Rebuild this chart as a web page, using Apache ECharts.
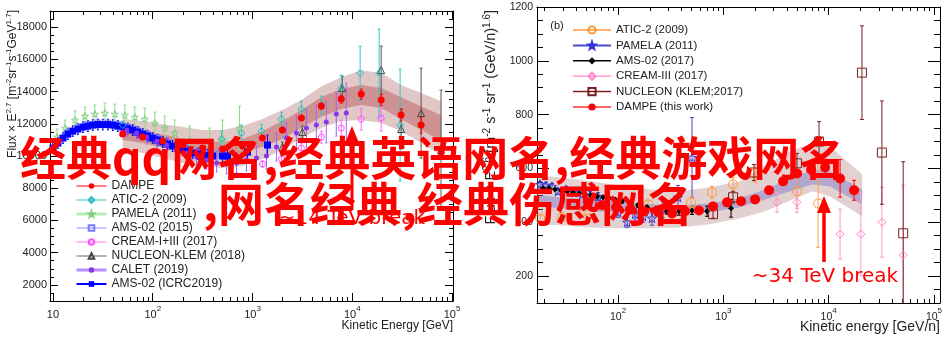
<!DOCTYPE html>
<html>
<head>
<meta charset="utf-8">
<script src="https://cdn.jsdelivr.net/npm/echarts@6/dist/echarts.min.js"></script>
<style>
  html, body { margin: 0; padding: 0; background: #fff; }
  #chart { width: 951px; height: 352px; }
</style>
</head>
<body>
<div id="chart"></div>
<script>
var lg = Math.log10;
var FONT = '"Liberation Sans", Arial, sans-serif';

// ---------- panel (a): proton flux x E^2.7, energy in GeV ----------
var pDampeE = [50, 79, 126, 200, 316, 501, 794, 1259, 1995, 3090, 4900, 7760, 12300, 19500, 30900, 49000];
var pDampeF = [11362, 11176, 10928, 10680, 10494, 10432, 10618, 11114, 11610, 12354, 13098, 13532, 13842, 13470, 12540, 11920];
var pDampeErr = [60, 60, 60, 60, 70, 70, 90, 100, 120, 160, 190, 250, 310, 330, 370, 500];

var pBandE = [50, 79, 126, 200, 316, 501, 794, 1259, 1995, 3090, 4900, 7760, 12300, 19500, 30900, 49000, 78000];
var pBandC = [11362, 11176, 10928, 10680, 10494, 10432, 10618, 11052, 11610, 12292, 13036, 13532, 13780, 13594, 12974, 12354, 11734];
var pBandOuter = [930, 990, 1050, 1120, 1120, 1180, 1240, 1240, 1240, 1180, 1300, 1360, 1550, 1550, 1430, 1550, 1670];
var pBandInner = [370, 370, 400, 400, 430, 430, 430, 500, 560, 560, 620, 620, 620, 620, 680, 740, 800];

var pAticE = [50.1, 490, 776, 1230, 1950, 3090, 4900, 7760, 12000, 18600, 30200];
var pAticF = [11920, 11052, 11424, 11548, 12292, 12912, 13160, 14214, 15144, 15144, 11920];
var pAticErr = [250, 500, 500, 430, 430, 500, 560, 810, 1670, 2730, 3470];

var pPamE = [11, 13.2, 16.6, 20.9, 26.3, 33.1, 41.7, 52.5, 66.1, 83.2, 105, 132, 166, 234, 372, 501, 741];
var pPamF = [11176, 11734, 12230, 12478, 12602, 12664, 12602, 12540, 12416, 12292, 12044, 11734, 11424, 10990, 10804, 10990, 11734];
var pPamErr = [500, 500, 560, 560, 560, 620, 620, 620, 620, 680, 680, 740, 810, 870, 930, 1240, 1360];

var pAms15E = [11.2, 14.1, 17.8, 22.4, 28.2, 35.5, 44.7, 56.2, 70.8, 89.1, 112, 141, 178, 224, 282, 355, 447];
var pAms15F = [10928, 11486, 11796, 11982, 12075, 12075, 11982, 11827, 11610, 11362, 11114, 10866, 10618, 10401, 10246, 10153, 10122];
var pAms15Err = [180, 180, 180, 180, 180, 180, 180, 180, 180, 180, 190, 190, 200, 210, 230, 250, 280];

var pCreamE = [1259, 1950, 3090, 4900, 7760, 12300, 19500];
var pCreamF = [9502, 9812, 10494, 11176, 11734, 12292, 12354];
var pCreamErr = [190, 190, 310, 370, 500, 680, 810];

var pNucE = [1995, 3160, 7940, 19500, 30900, 49000, 77600];
var pNucF = [10556, 11486, 14214, 15330, 11672, 12664, 10370];
var pNucErr = [310, 370, 740, 1490, 1240, 2790, 3720];

var pCalE = [55, 69, 87, 110, 138, 174, 219, 275, 347, 437, 550, 692, 871, 1096, 1380, 1738, 2188, 2754, 3467, 4365, 5495, 6918, 8710];
var pCalF = [11610, 11424, 11176, 10928, 10680, 10432, 10184, 9936, 9750, 9564, 9502, 9564, 9750, 9874, 9998, 10556, 11114, 11424, 11734, 11920, 12106, 12602, 12664];
var pCalErr = [370, 370, 430, 430, 430, 500, 500, 500, 560, 560, 620, 620, 680, 740, 810, 870, 990, 1120, 1180, 1240, 1300, 1360, 1860];

var pAmsIE = [10, 11.2, 12.6, 14.1, 15.8, 17.8, 20, 22.4, 25.1, 28.2, 31.6, 35.5, 39.8, 44.7, 50.1, 56.2, 63.1, 70.8, 79.4, 89.1,
  100, 112, 126, 141, 158, 178, 200, 224, 251, 282, 316, 355, 398, 501, 562, 891, 1413];
var pAmsIF = [10494, 10804, 11114, 11362, 11548, 11672, 11796, 11858, 11920, 11951, 11951, 11951, 11920, 11858, 11796, 11703, 11610, 11486, 11362, 11238,
  11114, 10990, 10866, 10742, 10618, 10494, 10370, 10277, 10184, 10122, 10060, 10029, 9998, 9998, 9998, 10246, 10680];
var pAmsIErr = [330, 330, 330, 330, 330, 330, 330, 330, 330, 330, 330, 330, 330, 330, 330, 330, 330, 330, 330, 330,
  330, 330, 330, 330, 330, 330, 340, 340, 350, 350, 360, 370, 380, 400, 420, 500, 620];

var pXTicks = [1, 2, 3, 4, 5];
var pYTicks = [2000, 4000, 6000, 8000, 10000, 12000, 14000, 16000, 18000];

// ---------- panel (b): helium flux x E^2.6, energy in GeV/n ----------
var hDampeE = [51.9, 70.5, 95.7, 130, 177, 240, 326, 433, 587, 798, 1084, 1472, 2000, 2717, 3690, 5012, 6810, 9250, 12830, 17420];
var hDampeF = [474, 463, 456, 448, 441, 437, 433, 441, 444, 459, 474, 478, 485, 519, 552, 581, 596, 604, 563, 519];
var hDampeErr = [3, 3, 3, 3, 3, 3, 4, 4, 5, 5, 6, 7, 8, 9, 11, 13, 20, 30, 70, 37];

var hBandE = [17.0, 28.1, 54.2, 104.5, 201, 388, 748, 1442, 2489, 4297, 7107, 10310, 20750];
var hOuterLo = [393, 389, 381, 378, 378, 381, 393, 415, 441, 481, 515, 496, 422];
var hOuterHi = [574, 567, 552, 537, 522, 515, 530, 552, 611, 663, 696, 682, 578];
var hInnerLo = [459, 452, 441, 437, 430, 430, 437, 456, 485, 515, 541, 533, 467];
var hInnerHi = [500, 493, 485, 478, 467, 463, 470, 489, 522, 563, 596, 589, 522];

var hAticE = [18.2, 29.4, 48.6, 193, 494, 781, 1236, 2000, 5000, 7940];
var hAticF = [415, 419, 441, 467, 474, 511, 541, 581, 515, 470];
var hAticErr = [11, 11, 11, 15, 19, 22, 26, 33, 63, 163];

var hPamE = [18.2, 20.7, 23.6, 26.9, 32.1, 38.3, 45.8, 54.2, 64.6, 76.9, 100, 122, 145, 173, 210, 266, 371, 504];
var hPamF = [541, 537, 533, 515, 522, 511, 504, 500, 496, 485, 437, 400, 430, 422, 415, 448, 493, 641];
var hPamErr = [11, 11, 11, 11, 11, 11, 11, 15, 15, 15, 19, 19, 22, 22, 26, 30, 44, 148];

var hAmsE = [19.4, 22.1, 25.2, 28.8, 32.8, 37.4, 42.7, 48.6, 55.4, 63.2, 72.1, 82.2, 93.7, 109, 130, 155, 189, 234, 292, 379, 504, 700, 1183];
var hAmsF = [526, 526, 522, 519, 515, 511, 507, 504, 500, 496, 493, 489, 485, 478, 470, 463, 456, 448, 441, 441, 444, 441, 452];
var hAmsErr = [4, 4, 4, 4, 4, 4, 4, 4, 4, 4, 4, 4, 4, 6, 7, 7, 7, 11, 11, 15, 15, 19, 33];

var hCreamE = [3236, 5000, 12830, 20200, 32000, 51000];
var hCreamF = [474, 474, 356, 356, 400, 278];
var hCreamErr = [37, 37, 93, 155, 130, 260];

var hNucE = [798, 1236, 1950, 5000, 8100, 20700, 32000, 51000];
var hNucF = [430, 493, 585, 619, 700, 956, 659, 359];
var hNucErr = [15, 22, 30, 37, 74, 174, 192, 266];

var hXTicks = [2, 3, 4, 5];
var hYTicks = [200, 400, 600, 800, 1000, 1200];

// ---------- helpers ----------
var STAR = 'path://M0,-10L2.35,-3.24L9.51,-3.09L3.8,1.24L5.88,8.09L0,4L-5.88,8.09L-3.8,1.24L-9.51,-3.09L-2.35,-3.24Z';

function marks(name, gi, E, F, sym, size, color, open, z) {
  return {
    type: 'line', name: name, xAxisIndex: gi * 4, yAxisIndex: gi * 4,
    data: E.map(function (e, i) { return [lg(e), F[i]]; }),
    symbol: sym, symbolSize: size, showSymbol: true,
    lineStyle: { opacity: 0 },
    itemStyle: open ? { color: 'rgba(0,0,0,0)', borderColor: color, borderWidth: 1 } : { color: color },
    emphasis: { disabled: true }, silent: true, z: z || 5
  };
}

function errs(gi, E, F, Err, color, cap) {
  return {
    type: 'custom', xAxisIndex: gi * 4, yAxisIndex: gi * 4, clip: true, silent: true, z: 4,
    data: E.map(function (e, i) { return [lg(e), F[i] - Err[i], F[i] + Err[i]]; }),
    encode: { x: 0, y: [1, 2] },
    renderItem: function (params, api) {
      var a = api.coord([api.value(0), api.value(2)]);
      var b = api.coord([api.value(0), api.value(1)]);
      var st = { stroke: color, lineWidth: 1 };
      return {
        type: 'group', children: [
          { type: 'line', shape: { x1: a[0], y1: a[1], x2: b[0], y2: b[1] }, style: st },
          { type: 'line', shape: { x1: a[0] - cap, y1: a[1], x2: a[0] + cap, y2: a[1] }, style: st },
          { type: 'line', shape: { x1: b[0] - cap, y1: b[1], x2: b[0] + cap, y2: b[1] }, style: st }
        ]
      };
    }
  };
}

function band(gi, E, lo, hi, fill) {
  return {
    type: 'custom', xAxisIndex: gi * 4, yAxisIndex: gi * 4, clip: true, silent: true, z: 2,
    data: E.map(function (e, i) { return [lg(e), lo[i], hi[i]]; }),
    encode: { x: 0, y: [1, 2] },
    renderItem: function (params, api) {
      if (params.dataIndex !== 0) return;
      var top = [], bot = [];
      for (var i = 0; i < E.length; i++) {
        top.push(api.coord([lg(E[i]), hi[i]]));
        bot.unshift(api.coord([lg(E[i]), lo[i]]));
      }
      return { type: 'polygon', shape: { points: top.concat(bot) }, style: { fill: fill } };
    }
  };
}

function logMinors(lo, hi) {
  var t = [];
  for (var n = Math.floor(lo); n < hi; n++) {
    for (var k = 2; k < 10; k++) {
      var v = n + lg(k);
      if (v >= lo && v <= hi) t.push(v);
    }
  }
  return t;
}
function steps(lo, hi, d, skip) {
  var t = [];
  for (var v = lo; v <= hi + 1e-9; v += d) if (!skip || v % skip !== 0) t.push(v);
  return t;
}

function axis(o) {
  var a = {
    type: 'value', gridIndex: o.gi, min: o.min, max: o.max, position: o.pos, silent: true,
    splitLine: { show: false },
    axisLine: { show: !!o.line, onZero: false, lineStyle: { color: '#000', width: 1 } },
    axisTick: { show: true, inside: true, length: o.len, customValues: o.ticks, lineStyle: { color: '#000', width: 1 } },
    axisLabel: { show: false }
  };
  if (o.labels) {
    a.axisLabel = {
      show: true, customValues: o.ticks, color: '#222', fontFamily: FONT, fontSize: o.fs,
      margin: o.margin, formatter: o.fmt, lineHeight: o.lh, rich: o.rich
    };
  }
  return a;
}

var supRich = {
  s: { fontSize: 8, fontFamily: FONT, color: '#222', verticalAlign: 'top', lineHeight: 9 }
};
function powFmt(v) {
  var n = Math.round(v);
  return n === 1 ? '10' : '10{s|' + n + '}';
}
function plainFmt(v) {
  return String(Math.round(v));
}

function panelAxes(gi, xr, yr, xMaj, yMaj, yMin, L) {
  var xMin = logMinors(xr[0], xr[1]);
  var xs = [
    axis({ gi: gi, min: xr[0], max: xr[1], pos: 'bottom', line: true, len: L.xMaj, ticks: xMaj, labels: true, fs: L.fs, margin: L.xm, fmt: powFmt, lh: 20, rich: supRich }),
    axis({ gi: gi, min: xr[0], max: xr[1], pos: 'bottom', len: L.xMin, ticks: xMin }),
    axis({ gi: gi, min: xr[0], max: xr[1], pos: 'top', line: true, len: L.xMaj, ticks: xMaj }),
    axis({ gi: gi, min: xr[0], max: xr[1], pos: 'top', len: L.xMin, ticks: xMin })
  ];
  var ys = [
    axis({ gi: gi, min: yr[0], max: yr[1], pos: 'left', line: true, len: L.yMaj, ticks: yMaj, labels: true, fs: L.fs, margin: L.ym, fmt: plainFmt }),
    axis({ gi: gi, min: yr[0], max: yr[1], pos: 'left', len: L.yMin, ticks: yMin }),
    axis({ gi: gi, min: yr[0], max: yr[1], pos: 'right', line: true, len: L.yMaj, ticks: yMaj }),
    axis({ gi: gi, min: yr[0], max: yr[1], pos: 'right', len: L.yMin, ticks: yMin })
  ];
  return { x: xs, y: ys };
}

var axA = panelAxes(0, [0.97, 5.01], [1000, 19000], pXTicks, pYTicks, steps(1000, 19000, 500, 2000),
  { xMaj: 8, xMin: 4, yMaj: 8, yMin: 4, fs: 11, xm: 4, ym: 3 });
var axB = panelAxes(1, [lg(17), 5.057], [100, 1200], hXTicks, hYTicks, steps(100, 1200, 50, 200),
  { xMaj: 8, xMin: 4, yMaj: 12, yMin: 6, fs: 10.5, xm: 4, ym: 4 });

// ---------- series ----------
var series = [
  band(0, pBandE, pBandE.map(function (e, i) { return pBandC[i] - pBandOuter[i]; }), pBandE.map(function (e, i) { return pBandC[i] + pBandOuter[i]; }), 'rgba(160,70,70,0.30)'),
  band(0, pBandE, pBandE.map(function (e, i) { return pBandC[i] - pBandInner[i]; }), pBandE.map(function (e, i) { return pBandC[i] + pBandInner[i]; }), 'rgba(170,50,50,0.35)'),

  errs(0, pPamE, pPamF, pPamErr, '#8fd98f', 1.5),
  marks('PAMELA (2011)', 0, pPamE, pPamF, STAR, 7, '#7fcf7f', true),
  errs(0, pAms15E, pAms15F, pAms15Err, '#7a7aff', 1),
  marks('AMS-02 (2015)', 0, pAms15E, pAms15F, 'rect', 5, '#7a7aff', true),
  errs(0, pAmsIE, pAmsIF, pAmsIErr, '#0000ff', 1),
  marks('AMS-02 (ICRC2019)', 0, pAmsIE, pAmsIF, 'rect', 7, '#0000ff', false),
  errs(0, pCalE, pCalF, pCalErr, '#a066f5', 1),
  marks('CALET (2019)', 0, pCalE, pCalF, 'circle', 5, '#8a35ee', false),
  errs(0, pCreamE, pCreamF, pCreamErr, '#ff66ff', 1.5),
  marks('CREAM-I+III (2017)', 0, pCreamE, pCreamF, 'circle', 6, '#ff55ff', true),
  errs(0, pNucE, pNucF, pNucErr, '#555555', 1.5),
  marks('NUCLEON-KLEM (2018)', 0, pNucE, pNucF, 'triangle', 7, '#444444', true),
  errs(0, pAticE, pAticF, pAticErr, '#33c6c6', 1.5),
  marks('ATIC-2 (2009)', 0, pAticE, pAticF, 'diamond', 7, '#22bcbc', true),
  errs(0, pDampeE, pDampeF, pDampeErr, '#ff0000', 1.5),
  marks('DAMPE', 0, pDampeE, pDampeF, 'circle', 7, '#ff0000', false, 6),

  band(1, hBandE, hOuterLo, hOuterHi, 'rgba(175,120,120,0.35)'),
  band(1, hBandE, hInnerLo, hInnerHi, 'rgba(90,90,200,0.35)'),

  errs(1, hPamE, hPamF, hPamErr, '#4a4ad0', 2),
  marks('b:PAMELA (2011)', 1, hPamE, hPamF, STAR, 9, '#3333cc', true),
  errs(1, hAmsE, hAmsF, hAmsErr, '#000000', 2),
  marks('b:AMS-02 (2017)', 1, hAmsE, hAmsF, 'diamond', 6, '#000000', false),
  errs(1, hAticE, hAticF, hAticErr, '#ffa050', 2),
  marks('b:ATIC-2 (2009)', 1, hAticE, hAticF, 'circle', 9, '#ff9933', true),
  errs(1, hCreamE, hCreamF, hCreamErr, '#ff99cc', 2),
  marks('b:CREAM-III (2017)', 1, hCreamE, hCreamF, 'diamond', 8, '#ff88cc', true),
  errs(1, hNucE, hNucF, hNucErr, '#7a1f1f', 2),
  marks('b:NUCLEON (KLEM;2017)', 1, hNucE, hNucF, 'rect', 9, '#7a1f1f', true),
  errs(1, hDampeE, hDampeF, hDampeErr, '#ff0000', 2),
  marks('b:DAMPE (this work)', 1, hDampeE, hDampeF, 'circle', 10, '#ff0000', false, 6)
];

function leg(name, color, w) {
  return { name: name, lineStyle: { color: color, width: w, opacity: 1 } };
}

var chart = echarts.init(document.getElementById('chart'));
chart.setOption({
  animation: false,
  backgroundColor: '#fff',
  grid: [
    { left: 50, right: 498, top: 11, bottom: 51, outerBoundsMode: 'none' },
    { left: 537, right: 11, top: 7, bottom: 49, outerBoundsMode: 'none' }
  ],
  xAxis: axA.x.concat(axB.x),
  yAxis: axA.y.concat(axB.y),
  legend: [
    {
      orient: 'vertical', left: 75, top: 179, padding: 0, itemWidth: 30, itemHeight: 7, itemGap: 0,
      selectedMode: false, textStyle: { fontSize: 12, lineHeight: 14, color: '#222', fontFamily: FONT },
      data: [
        leg('DAMPE', '#ff0000', 1),
        leg('ATIC-2 (2009)', '#33c6c6', 1),
        leg('PAMELA (2011)', '#b8ecb8', 3),
        leg('AMS-02 (2015)', '#8a8aff', 1),
        leg('CREAM-I+III (2017)', '#ff77ff', 1),
        leg('NUCLEON-KLEM (2018)', '#666666', 1),
        leg('CALET (2019)', '#b88cff', 3),
        leg('AMS-02 (ICRC2019)', '#0000ff', 2)
      ]
    },
    {
      orient: 'vertical', left: 572, top: 23, padding: 0, itemWidth: 38, itemHeight: 9, itemGap: 1.4,
      selectedMode: false, textStyle: { fontSize: 11.5, lineHeight: 14, color: '#222', fontFamily: FONT },
      formatter: function (n) { return n.replace(/^b:/, ''); },
      data: [
        leg('b:ATIC-2 (2009)', '#ff9933', 1.5),
        leg('b:PAMELA (2011)', '#4a4ad0', 2),
        leg('b:AMS-02 (2017)', '#000000', 1.5),
        leg('b:CREAM-III (2017)', '#ffa0d0', 1.5),
        leg('b:NUCLEON (KLEM;2017)', '#7a1f1f', 1.5),
        leg('b:DAMPE (this work)', '#ff3030', 1.5)
      ]
    }
  ],
  graphic: [
    {
      type: 'text', x: 13, y: 10, rotation: Math.PI / 2, z: 20,
      style: {
        text: 'Flux × E{s|2.7} [m{s|-2}sr{s|-1}s{s|-1}GeV{s|1.7}]', fill: '#222', fontSize: 12, fontFamily: FONT,
        lineHeight: 16, align: 'right', textAlign: 'right', verticalAlign: 'middle', textVerticalAlign: 'middle',
        rich: { s: { fontSize: 8, fontFamily: FONT, fill: '#222', verticalAlign: 'top', lineHeight: 8 } }
      }
    },
    {
      type: 'text', x: 491, y: 10, rotation: Math.PI / 2, z: 20,
      style: {
        text: 'Flux × E{s|2.6} [m{s|-2} s{s|-1} sr{s|-1} (GeV/n){s|1.6}]', fill: '#222', fontSize: 14.5, fontFamily: FONT,
        lineHeight: 18, align: 'right', textAlign: 'right', verticalAlign: 'middle', textVerticalAlign: 'middle',
        rich: { s: { fontSize: 10, fontFamily: FONT, fill: '#222', verticalAlign: 'top', lineHeight: 10 } }
      }
    },
    {
      type: 'text', x: 453, y: 326, z: 20,
      style: { text: 'Kinetic Energy [GeV]', fill: '#222', fontSize: 12, fontFamily: FONT, align: 'right', textAlign: 'right', verticalAlign: 'middle', textVerticalAlign: 'middle' }
    },
    {
      type: 'text', x: 940, y: 327, z: 20,
      style: { text: 'Kinetic energy [GeV/n]', fill: '#222', fontSize: 14, fontFamily: FONT, align: 'right', textAlign: 'right', verticalAlign: 'middle', textVerticalAlign: 'middle' }
    },
    {
      type: 'text', x: 557, y: 26, z: 20,
      style: { text: '(b)', fill: '#222', fontSize: 11, fontFamily: FONT, align: 'center', textAlign: 'center', verticalAlign: 'middle', textVerticalAlign: 'middle' }
    },
    // ~14 TeV break annotation (left)
    { type: 'line', z: 30, shape: { x1: 352, y1: 210, x2: 352, y2: 140 }, style: { stroke: '#ff0000', lineWidth: 3 } },
    { type: 'polygon', z: 30, shape: { points: [[352, 126], [345, 143], [359, 143]] }, style: { fill: '#ff0000' } },
    {
      type: 'text', x: 352, y: 219, z: 30,
      style: { text: '~14 TeV break', fill: '#ff0000', fontSize: 20, fontFamily: '"DejaVu Sans", sans-serif', align: 'center', textAlign: 'center', verticalAlign: 'middle', textVerticalAlign: 'middle' }
    },
    // ~34 TeV break annotation (right)
    { type: 'line', z: 30, shape: { x1: 824, y1: 262, x2: 824, y2: 210 }, style: { stroke: '#ff0000', lineWidth: 3.5 } },
    { type: 'polygon', z: 30, shape: { points: [[824, 196], [817, 213], [831, 213]] }, style: { fill: '#ff0000' } },
    {
      type: 'text', x: 825, y: 277, z: 30,
      style: { text: '~34 TeV break', fill: '#ff0000', fontSize: 20, fontFamily: '"DejaVu Sans", sans-serif', align: 'center', textAlign: 'center', verticalAlign: 'middle', textVerticalAlign: 'middle' }
    },
    // overlay title text
    {
      type: 'text', x: 20, y: 158, z: 100,
      style: { text: '经典qq网名,经典英语网名,经典游戏网名', fill: '#ff0000', font: 'bold 46px "Noto Sans CJK SC"', align: 'left', textAlign: 'left', verticalAlign: 'middle', textVerticalAlign: 'middle' }
    },
    {
      type: 'text', x: 203, y: 204, z: 100,
      style: { text: ',网名经典,经典伤感网名', fill: '#ff0000', font: 'bold 46px "Noto Sans CJK SC"', align: 'left', textAlign: 'left', verticalAlign: 'middle', textVerticalAlign: 'middle' }
    }
  ],
  series: series
});
</script>
</body>
</html>
